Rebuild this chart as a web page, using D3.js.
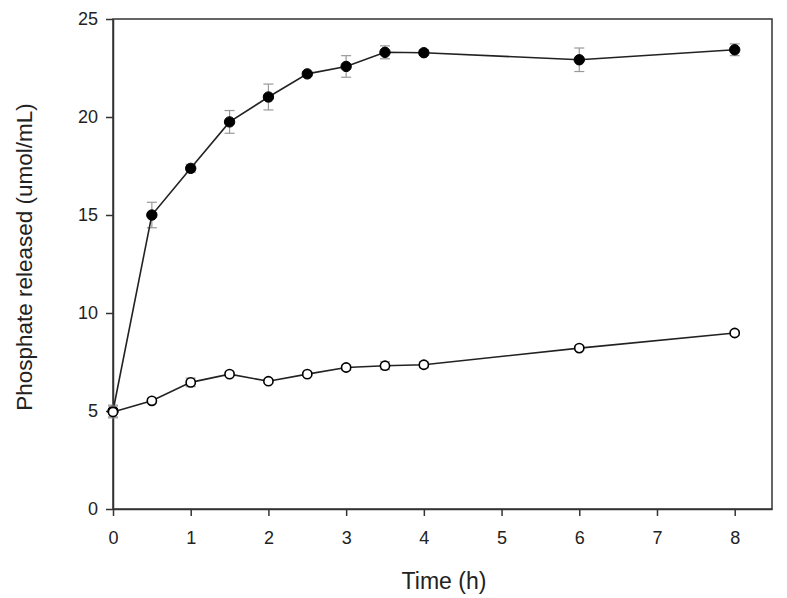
<!DOCTYPE html>
<html>
<head>
<meta charset="utf-8">
<script src="https://cdn.jsdelivr.net/npm/d3@7"></script>
<style>
  body { margin: 0; background: #fff; }
  text { font-family: "Liberation Sans", Arial, sans-serif; fill: #222; }
</style>
</head>
<body>
<svg class="chart"></svg>
<script>
const times = [0, 0.5, 1, 1.5, 2, 2.5, 3, 3.5, 4, 6, 8];
const filledVals = [5.0, 15.0, 17.38, 19.75, 21.02, 22.2, 22.58, 23.3, 23.28, 22.92, 23.43];
const filledErr = [0.3, 0.65, 0.2, 0.58, 0.66, 0.1, 0.55, 0.33, 0.14, 0.6, 0.3];
const openVals = [4.95, 5.52, 6.46, 6.88, 6.52, 6.88, 7.22, 7.31, 7.36, 8.21, 8.98];
const openErr = [0.3, 0.12, 0.22, 0.1, 0.1, 0.1, 0.12, 0.2, 0.15, 0.1, 0.12];
const xTicks = [0, 1, 2, 3, 4, 5, 6, 7, 8];
const yTicks = [0, 5, 10, 15, 20, 25];

let margin = {top: 19, right: 15, bottom: 89, left: 113};
let width = 787, height = 598;
let widthChart = width - margin.left - margin.right;
let heightChart = height - margin.top - margin.bottom;

let svg = d3.select(".chart").attr("width", width).attr("height", height);
let chart = svg.append("g").attr("transform", "translate(" + margin.left + "," + margin.top + ")");

let x = d3.scaleLinear().domain([0, 8.48]).range([0, widthChart]);
let y = d3.scaleLinear().domain([0, 25]).range([heightChart, 0]);

/* frame */
chart.append("rect")
  .attr("x", 0).attr("y", 0)
  .attr("width", widthChart).attr("height", heightChart)
  .attr("fill", "none").attr("stroke", "#333").attr("stroke-width", 1.5);

/* axes */
let xAxis = d3.axisBottom(x).tickValues(xTicks).tickSize(7).tickSizeOuter(0).tickPadding(15);
let yAxis = d3.axisLeft(y).tickValues(yTicks).tickSize(7).tickSizeOuter(0).tickPadding(8);

let gx = chart.append("g").attr("transform", "translate(0," + heightChart + ")").call(xAxis);
let gy = chart.append("g").call(yAxis);
[gx, gy].forEach(function(g) {
  g.select(".domain").attr("stroke", "#333").attr("stroke-width", 1.5);
  g.selectAll(".tick line").attr("stroke", "#333").attr("stroke-width", 1.5);
  g.selectAll(".tick text").style("font-size", "18px").attr("fill", "#222");
});

/* series */
function drawSeries(vals, errs, filled) {
  let pts = times.map((t, i) => ({t: t, v: vals[i], e: errs[i]}));
  let eb = chart.append("g").selectAll("g").data(pts).enter().append("g")
    .attr("stroke", "#999").attr("stroke-width", 1.2);
  eb.append("line")
    .attr("x1", d => x(d.t)).attr("x2", d => x(d.t))
    .attr("y1", d => y(d.v - d.e)).attr("y2", d => y(d.v + d.e));
  eb.append("line")
    .attr("x1", d => x(d.t) - 5).attr("x2", d => x(d.t) + 5)
    .attr("y1", d => y(d.v + d.e)).attr("y2", d => y(d.v + d.e));
  eb.append("line")
    .attr("x1", d => x(d.t) - 5).attr("x2", d => x(d.t) + 5)
    .attr("y1", d => y(d.v - d.e)).attr("y2", d => y(d.v - d.e));

  let line = d3.line().x(d => x(d.t)).y(d => y(d.v));
  chart.append("path").datum(pts)
    .attr("d", line).attr("fill", "none")
    .attr("stroke", "#222").attr("stroke-width", 1.6);

  chart.append("g").selectAll("circle").data(pts).enter().append("circle")
    .attr("cx", d => x(d.t)).attr("cy", d => y(d.v))
    .attr("r", filled ? 5.2 : 4.6)
    .attr("fill", filled ? "#000" : "#fff")
    .attr("stroke", "#000").attr("stroke-width", filled ? 1 : 1.6);
}
drawSeries(filledVals, filledErr, true);
drawSeries(openVals, openErr, false);

/* axis titles */
svg.append("text").text("Time (h)")
  .attr("x", 444).attr("y", 589)
  .attr("text-anchor", "middle")
  .style("font-size", "23px");

svg.append("text").text("Phosphate released (umol/mL)")
  .attr("text-anchor", "middle")
  .attr("transform", "translate(32,257) rotate(-90)")
  .style("font-size", "22.5px");
</script>
</body>
</html>
